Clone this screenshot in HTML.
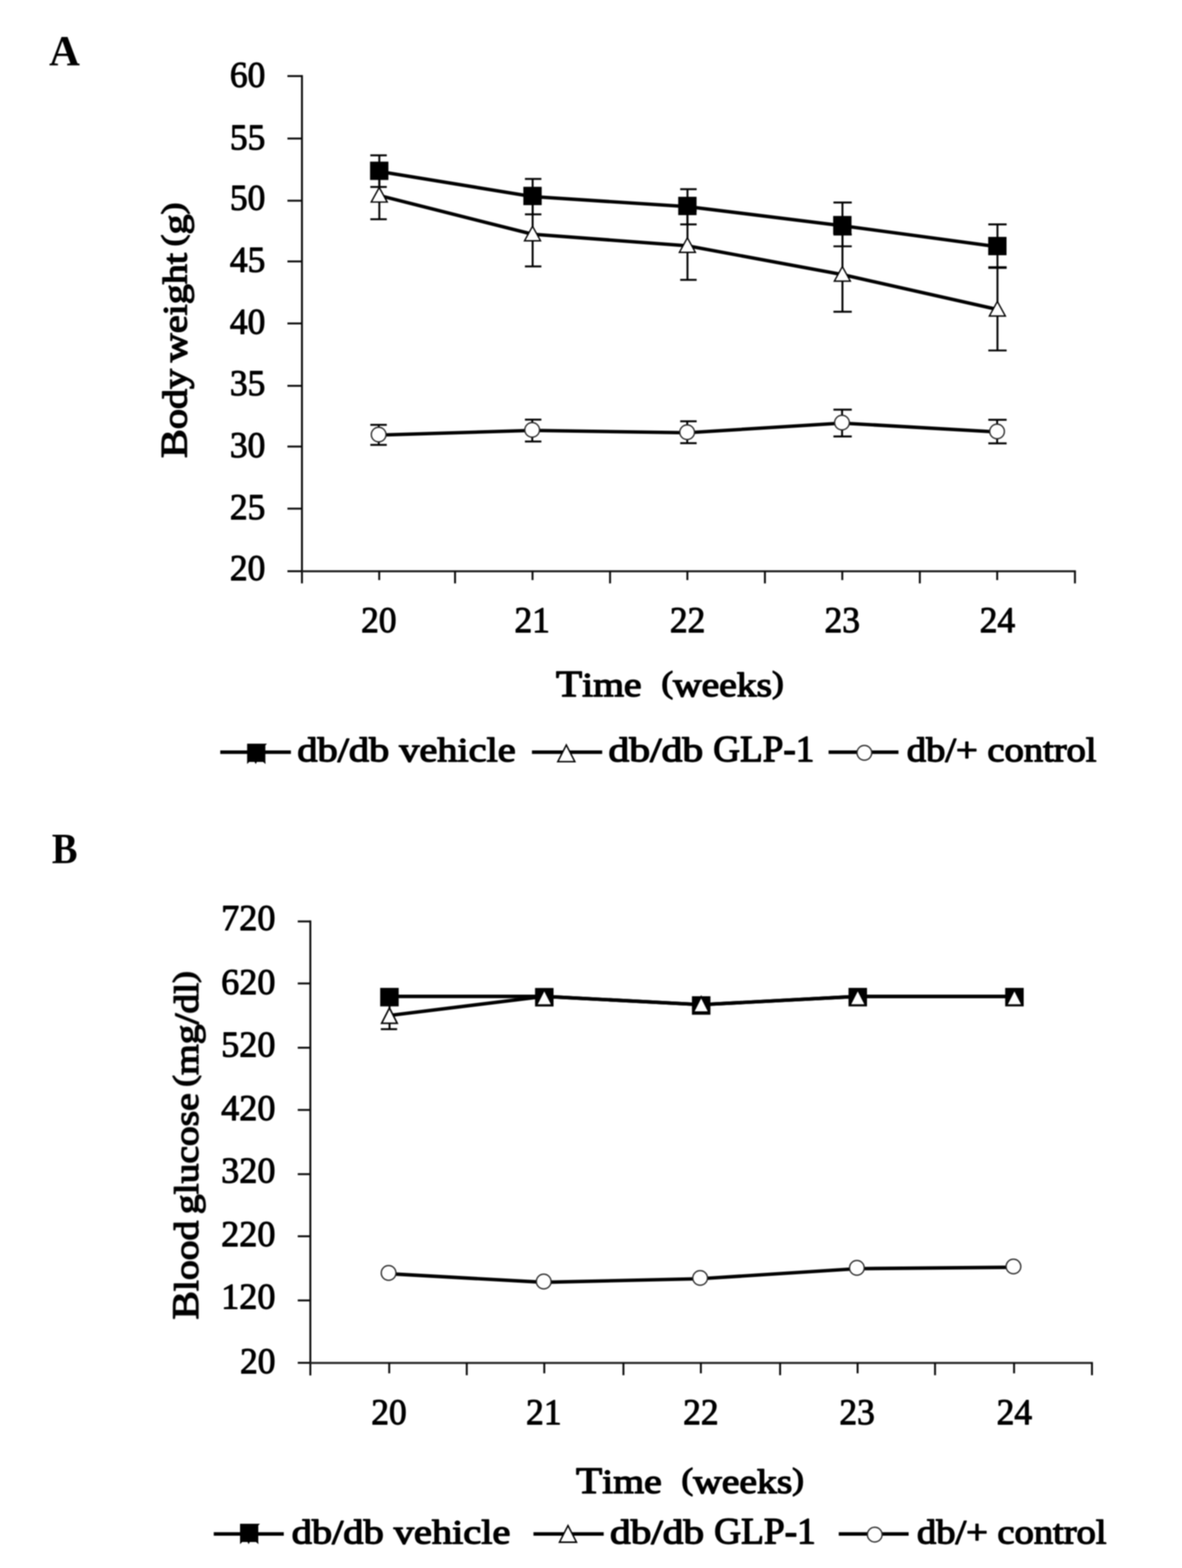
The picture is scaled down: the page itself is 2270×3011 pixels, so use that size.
<!DOCTYPE html>
<html lang="en">
<head>
<meta charset="utf-8">
<title>Body weight and blood glucose over time</title>
<style>
html,body{margin:0;padding:0;background:#fff;}
body{width:2270px;height:3011px;overflow:hidden;}
svg{display:block;}
svg text{font-family:"Liberation Serif",serif;fill:#000;}
</style>
</head>
<body>
<svg width="2270" height="3011" viewBox="0 0 2270 3011">
<rect width="2270" height="3011" fill="#fff"/>
<defs><filter id="soft" filterUnits="userSpaceOnUse" x="0" y="0" width="2270" height="3011" color-interpolation-filters="sRGB"><feGaussianBlur stdDeviation="0.8"/></filter></defs>
<g id="fig" filter="url(#soft)">
<g id="shapes">
<line x1="552.00" y1="146.10" x2="579.90" y2="146.10" stroke="#0a0a0a" stroke-width="3.7" stroke-linecap="butt"/>
<line x1="552.00" y1="266.00" x2="579.90" y2="266.00" stroke="#0a0a0a" stroke-width="3.7" stroke-linecap="butt"/>
<line x1="552.00" y1="385.40" x2="579.90" y2="385.40" stroke="#0a0a0a" stroke-width="3.7" stroke-linecap="butt"/>
<line x1="552.00" y1="502.00" x2="579.90" y2="502.00" stroke="#0a0a0a" stroke-width="3.7" stroke-linecap="butt"/>
<line x1="552.00" y1="621.10" x2="579.90" y2="621.10" stroke="#0a0a0a" stroke-width="3.7" stroke-linecap="butt"/>
<line x1="552.00" y1="740.90" x2="579.90" y2="740.90" stroke="#0a0a0a" stroke-width="3.7" stroke-linecap="butt"/>
<line x1="552.00" y1="857.50" x2="579.90" y2="857.50" stroke="#0a0a0a" stroke-width="3.7" stroke-linecap="butt"/>
<line x1="552.00" y1="976.70" x2="579.90" y2="976.70" stroke="#0a0a0a" stroke-width="3.7" stroke-linecap="butt"/>
<line x1="552.00" y1="1096.90" x2="579.90" y2="1096.90" stroke="#0a0a0a" stroke-width="3.7" stroke-linecap="butt"/>
<line x1="579.90" y1="144.25" x2="579.90" y2="1120.30" stroke="#0a0a0a" stroke-width="3.7" stroke-linecap="butt"/>
<line x1="579.90" y1="1097.00" x2="2066.25" y2="1097.00" stroke="#222" stroke-width="3.9" stroke-linecap="butt"/>
<line x1="873.90" y1="1096.90" x2="873.90" y2="1120.30" stroke="#0a0a0a" stroke-width="3.7" stroke-linecap="butt"/>
<line x1="1171.60" y1="1096.90" x2="1171.60" y2="1120.30" stroke="#0a0a0a" stroke-width="3.7" stroke-linecap="butt"/>
<line x1="1469.00" y1="1096.90" x2="1469.00" y2="1120.30" stroke="#0a0a0a" stroke-width="3.7" stroke-linecap="butt"/>
<line x1="1766.50" y1="1096.90" x2="1766.50" y2="1120.30" stroke="#0a0a0a" stroke-width="3.7" stroke-linecap="butt"/>
<line x1="2064.40" y1="1096.90" x2="2064.40" y2="1120.30" stroke="#0a0a0a" stroke-width="3.7" stroke-linecap="butt"/>
<line x1="728.30" y1="1096.90" x2="728.30" y2="1113.90" stroke="#0a0a0a" stroke-width="3.7" stroke-linecap="butt"/>
<line x1="1022.70" y1="1096.90" x2="1022.70" y2="1113.90" stroke="#0a0a0a" stroke-width="3.7" stroke-linecap="butt"/>
<line x1="1320.10" y1="1096.90" x2="1320.10" y2="1113.90" stroke="#0a0a0a" stroke-width="3.7" stroke-linecap="butt"/>
<line x1="1617.60" y1="1096.90" x2="1617.60" y2="1113.90" stroke="#0a0a0a" stroke-width="3.7" stroke-linecap="butt"/>
<line x1="1915.10" y1="1096.90" x2="1915.10" y2="1113.90" stroke="#0a0a0a" stroke-width="3.7" stroke-linecap="butt"/>
<line x1="728.50" y1="327.80" x2="728.50" y2="421.00" stroke="#000" stroke-width="3.7" stroke-linecap="butt"/>
<line x1="711.20" y1="327.80" x2="742.80" y2="327.80" stroke="#000" stroke-width="3.7" stroke-linecap="butt"/>
<line x1="711.20" y1="421.00" x2="742.80" y2="421.00" stroke="#000" stroke-width="3.7" stroke-linecap="butt"/>
<line x1="728.50" y1="298.30" x2="728.50" y2="359.00" stroke="#000" stroke-width="3.7" stroke-linecap="butt"/>
<line x1="711.20" y1="298.30" x2="742.80" y2="298.30" stroke="#000" stroke-width="3.7" stroke-linecap="butt"/>
<line x1="711.20" y1="359.00" x2="742.80" y2="359.00" stroke="#000" stroke-width="3.7" stroke-linecap="butt"/>
<line x1="727.40" y1="815.80" x2="727.40" y2="854.30" stroke="#000" stroke-width="3.7" stroke-linecap="butt"/>
<line x1="711.20" y1="815.80" x2="742.80" y2="815.80" stroke="#000" stroke-width="3.7" stroke-linecap="butt"/>
<line x1="711.20" y1="854.30" x2="742.80" y2="854.30" stroke="#000" stroke-width="3.7" stroke-linecap="butt"/>
<line x1="1022.90" y1="386.00" x2="1022.90" y2="511.60" stroke="#000" stroke-width="3.7" stroke-linecap="butt"/>
<line x1="1008.10" y1="386.00" x2="1039.70" y2="386.00" stroke="#000" stroke-width="3.7" stroke-linecap="butt"/>
<line x1="1008.10" y1="511.60" x2="1039.70" y2="511.60" stroke="#000" stroke-width="3.7" stroke-linecap="butt"/>
<line x1="1022.90" y1="343.60" x2="1022.90" y2="411.60" stroke="#000" stroke-width="3.7" stroke-linecap="butt"/>
<line x1="1008.10" y1="343.60" x2="1039.70" y2="343.60" stroke="#000" stroke-width="3.7" stroke-linecap="butt"/>
<line x1="1008.10" y1="411.60" x2="1039.70" y2="411.60" stroke="#000" stroke-width="3.7" stroke-linecap="butt"/>
<line x1="1022.20" y1="805.80" x2="1022.20" y2="847.80" stroke="#000" stroke-width="3.7" stroke-linecap="butt"/>
<line x1="1008.10" y1="805.80" x2="1039.70" y2="805.80" stroke="#000" stroke-width="3.7" stroke-linecap="butt"/>
<line x1="1008.10" y1="847.80" x2="1039.70" y2="847.80" stroke="#000" stroke-width="3.7" stroke-linecap="butt"/>
<line x1="1320.30" y1="404.60" x2="1320.30" y2="537.40" stroke="#000" stroke-width="3.7" stroke-linecap="butt"/>
<line x1="1306.30" y1="404.60" x2="1337.90" y2="404.60" stroke="#000" stroke-width="3.7" stroke-linecap="butt"/>
<line x1="1306.30" y1="537.40" x2="1337.90" y2="537.40" stroke="#000" stroke-width="3.7" stroke-linecap="butt"/>
<line x1="1320.30" y1="363.30" x2="1320.30" y2="430.90" stroke="#000" stroke-width="3.7" stroke-linecap="butt"/>
<line x1="1306.30" y1="363.30" x2="1337.90" y2="363.30" stroke="#000" stroke-width="3.7" stroke-linecap="butt"/>
<line x1="1306.30" y1="430.90" x2="1337.90" y2="430.90" stroke="#000" stroke-width="3.7" stroke-linecap="butt"/>
<line x1="1319.80" y1="809.00" x2="1319.80" y2="851.00" stroke="#000" stroke-width="3.7" stroke-linecap="butt"/>
<line x1="1306.30" y1="809.00" x2="1337.90" y2="809.00" stroke="#000" stroke-width="3.7" stroke-linecap="butt"/>
<line x1="1306.30" y1="851.00" x2="1337.90" y2="851.00" stroke="#000" stroke-width="3.7" stroke-linecap="butt"/>
<line x1="1617.90" y1="450.50" x2="1617.90" y2="598.70" stroke="#000" stroke-width="3.7" stroke-linecap="butt"/>
<line x1="1600.60" y1="450.50" x2="1635.80" y2="450.50" stroke="#000" stroke-width="3.7" stroke-linecap="butt"/>
<line x1="1600.60" y1="598.70" x2="1635.80" y2="598.70" stroke="#000" stroke-width="3.7" stroke-linecap="butt"/>
<line x1="1617.90" y1="388.80" x2="1617.90" y2="473.00" stroke="#000" stroke-width="3.7" stroke-linecap="butt"/>
<line x1="1600.60" y1="388.80" x2="1635.80" y2="388.80" stroke="#000" stroke-width="3.7" stroke-linecap="butt"/>
<line x1="1600.60" y1="473.00" x2="1635.80" y2="473.00" stroke="#000" stroke-width="3.7" stroke-linecap="butt"/>
<line x1="1617.20" y1="786.70" x2="1617.20" y2="838.10" stroke="#000" stroke-width="3.7" stroke-linecap="butt"/>
<line x1="1600.60" y1="786.70" x2="1635.80" y2="786.70" stroke="#000" stroke-width="3.7" stroke-linecap="butt"/>
<line x1="1600.60" y1="838.10" x2="1635.80" y2="838.10" stroke="#000" stroke-width="3.7" stroke-linecap="butt"/>
<line x1="1915.60" y1="514.50" x2="1915.60" y2="673.00" stroke="#000" stroke-width="3.7" stroke-linecap="butt"/>
<line x1="1898.00" y1="514.50" x2="1933.20" y2="514.50" stroke="#000" stroke-width="3.7" stroke-linecap="butt"/>
<line x1="1898.00" y1="673.00" x2="1933.20" y2="673.00" stroke="#000" stroke-width="3.7" stroke-linecap="butt"/>
<line x1="1915.60" y1="430.90" x2="1915.60" y2="513.10" stroke="#000" stroke-width="3.7" stroke-linecap="butt"/>
<line x1="1898.00" y1="430.90" x2="1933.20" y2="430.90" stroke="#000" stroke-width="3.7" stroke-linecap="butt"/>
<line x1="1898.00" y1="513.10" x2="1933.20" y2="513.10" stroke="#000" stroke-width="3.7" stroke-linecap="butt"/>
<line x1="1915.00" y1="806.10" x2="1915.00" y2="851.40" stroke="#000" stroke-width="3.7" stroke-linecap="butt"/>
<line x1="1898.00" y1="806.10" x2="1933.20" y2="806.10" stroke="#000" stroke-width="3.7" stroke-linecap="butt"/>
<line x1="1898.00" y1="851.40" x2="1933.20" y2="851.40" stroke="#000" stroke-width="3.7" stroke-linecap="butt"/>
<polyline points="728.30,329.20 1022.70,377.50 1320.10,396.70 1617.70,433.50 1915.40,473.70" fill="none" stroke="#000" stroke-width="6.6" stroke-linejoin="round" stroke-linecap="butt"/>
<polyline points="728.30,375.40 1022.70,449.80 1320.10,472.00 1617.70,527.30 1915.40,594.30" fill="none" stroke="#000" stroke-width="6.6" stroke-linejoin="round" stroke-linecap="butt"/>
<polyline points="727.20,835.50 1022.00,826.50 1319.60,831.00 1617.00,812.50 1914.80,829.50" fill="none" stroke="#000" stroke-width="6.6" stroke-linejoin="round" stroke-linecap="butt"/>
<rect x="710.70" y="310.40" width="35.2" height="35.2" fill="#000"/>
<rect x="1005.10" y="358.70" width="35.2" height="35.2" fill="#000"/>
<rect x="1302.50" y="377.90" width="35.2" height="35.2" fill="#000"/>
<rect x="1600.10" y="414.70" width="35.2" height="35.2" fill="#000"/>
<rect x="1897.80" y="454.90" width="35.2" height="35.2" fill="#000"/>
<polygon points="728.30,360.00 743.70,388.00 712.90,388.00" fill="#fff" stroke="#000" stroke-width="2.6" stroke-linejoin="miter"/>
<polygon points="1022.70,434.40 1038.10,462.40 1007.30,462.40" fill="#fff" stroke="#000" stroke-width="2.6" stroke-linejoin="miter"/>
<polygon points="1320.10,456.60 1335.50,484.60 1304.70,484.60" fill="#fff" stroke="#000" stroke-width="2.6" stroke-linejoin="miter"/>
<polygon points="1617.70,511.90 1633.10,539.90 1602.30,539.90" fill="#fff" stroke="#000" stroke-width="2.6" stroke-linejoin="miter"/>
<polygon points="1915.40,578.90 1930.80,606.90 1900.00,606.90" fill="#fff" stroke="#000" stroke-width="2.6" stroke-linejoin="miter"/>
<circle cx="727.20" cy="834.50" r="14.1" fill="#fff" stroke="#262626" stroke-width="2.5"/>
<circle cx="1022.00" cy="825.50" r="14.1" fill="#fff" stroke="#262626" stroke-width="2.5"/>
<circle cx="1319.60" cy="830.00" r="14.1" fill="#fff" stroke="#262626" stroke-width="2.5"/>
<circle cx="1617.00" cy="811.50" r="14.1" fill="#fff" stroke="#262626" stroke-width="2.5"/>
<circle cx="1914.80" cy="828.50" r="14.1" fill="#fff" stroke="#262626" stroke-width="2.5"/>
<line x1="423.00" y1="1444.40" x2="558.70" y2="1444.40" stroke="#000" stroke-width="6.8" stroke-linecap="butt"/>
<rect x="474.60" y="1428.10" width="35" height="35" fill="#000"/>
<path d="M474.6,1462.6 l0,4.6 l4.5,-4.6 z M488.6,1462.6 l2.5,4.6 l2.5,-4.6 z M504.6,1462.6 l5.5,4.6 l-0.5,-4.6 z M509.1,1428.1 l3.6,0 l-3.6,4 z" fill="#000"/>
<line x1="1021.60" y1="1444.40" x2="1156.50" y2="1444.40" stroke="#000" stroke-width="6.8" stroke-linecap="butt"/>
<polygon points="1087.60,1430.60 1104.00,1462.60 1071.20,1462.60" fill="#fff" stroke="#000" stroke-width="2.8" stroke-linejoin="miter"/>
<line x1="1591.30" y1="1444.40" x2="1725.50" y2="1444.40" stroke="#000" stroke-width="6.8" stroke-linecap="butt"/>
<circle cx="1660.00" cy="1445.60" r="14.1" fill="#fff" stroke="#262626" stroke-width="2.5"/>
<line x1="571.80" y1="1769.40" x2="596.00" y2="1769.40" stroke="#0a0a0a" stroke-width="3.7" stroke-linecap="butt"/>
<line x1="571.80" y1="1888.50" x2="596.00" y2="1888.50" stroke="#0a0a0a" stroke-width="3.7" stroke-linecap="butt"/>
<line x1="571.80" y1="2011.90" x2="596.00" y2="2011.90" stroke="#0a0a0a" stroke-width="3.7" stroke-linecap="butt"/>
<line x1="571.80" y1="2131.40" x2="596.00" y2="2131.40" stroke="#0a0a0a" stroke-width="3.7" stroke-linecap="butt"/>
<line x1="571.80" y1="2254.70" x2="596.00" y2="2254.70" stroke="#0a0a0a" stroke-width="3.7" stroke-linecap="butt"/>
<line x1="571.80" y1="2374.00" x2="596.00" y2="2374.00" stroke="#0a0a0a" stroke-width="3.7" stroke-linecap="butt"/>
<line x1="571.80" y1="2497.20" x2="596.00" y2="2497.20" stroke="#0a0a0a" stroke-width="3.7" stroke-linecap="butt"/>
<line x1="571.80" y1="2617.00" x2="596.00" y2="2617.00" stroke="#0a0a0a" stroke-width="3.7" stroke-linecap="butt"/>
<line x1="596.00" y1="1767.55" x2="596.00" y2="2641.20" stroke="#0a0a0a" stroke-width="3.7" stroke-linecap="butt"/>
<line x1="596.00" y1="2617.20" x2="2098.95" y2="2617.20" stroke="#222" stroke-width="3.9" stroke-linecap="butt"/>
<line x1="896.40" y1="2617.00" x2="896.40" y2="2640.80" stroke="#0a0a0a" stroke-width="3.7" stroke-linecap="butt"/>
<line x1="1197.30" y1="2617.00" x2="1197.30" y2="2640.80" stroke="#0a0a0a" stroke-width="3.7" stroke-linecap="butt"/>
<line x1="1498.20" y1="2617.00" x2="1498.20" y2="2640.80" stroke="#0a0a0a" stroke-width="3.7" stroke-linecap="butt"/>
<line x1="1795.70" y1="2617.00" x2="1795.70" y2="2640.80" stroke="#0a0a0a" stroke-width="3.7" stroke-linecap="butt"/>
<line x1="2097.10" y1="2617.00" x2="2097.10" y2="2640.80" stroke="#0a0a0a" stroke-width="3.7" stroke-linecap="butt"/>
<line x1="747.50" y1="2617.00" x2="747.50" y2="2637.20" stroke="#0a0a0a" stroke-width="3.7" stroke-linecap="butt"/>
<line x1="1045.30" y1="2617.00" x2="1045.30" y2="2637.20" stroke="#0a0a0a" stroke-width="3.7" stroke-linecap="butt"/>
<line x1="1346.00" y1="2617.00" x2="1346.00" y2="2637.20" stroke="#0a0a0a" stroke-width="3.7" stroke-linecap="butt"/>
<line x1="1647.00" y1="2617.00" x2="1647.00" y2="2637.20" stroke="#0a0a0a" stroke-width="3.7" stroke-linecap="butt"/>
<line x1="1947.50" y1="2617.00" x2="1947.50" y2="2637.20" stroke="#0a0a0a" stroke-width="3.7" stroke-linecap="butt"/>
<line x1="748.10" y1="1924.70" x2="748.10" y2="1976.30" stroke="#000" stroke-width="3.7" stroke-linecap="butt"/>
<line x1="731.35" y1="1924.70" x2="762.65" y2="1924.70" stroke="#000" stroke-width="3.7" stroke-linecap="butt"/>
<line x1="731.35" y1="1976.30" x2="762.65" y2="1976.30" stroke="#000" stroke-width="3.7" stroke-linecap="butt"/>
<polyline points="747.90,1913.40 1045.30,1913.40 1346.60,1929.20 1647.30,1913.40 1948.20,1913.40" fill="none" stroke="#000" stroke-width="6.6" stroke-linejoin="round" stroke-linecap="butt"/>
<polyline points="747.90,1950.00 1045.30,1913.40 1346.60,1929.20 1647.30,1913.40 1948.20,1913.40" fill="none" stroke="#000" stroke-width="6.6" stroke-linejoin="round" stroke-linecap="butt"/>
<polyline points="746.30,2445.90 1044.20,2462.40 1344.60,2455.50 1645.60,2436.20 1946.30,2433.50" fill="none" stroke="#000" stroke-width="6.6" stroke-linejoin="round" stroke-linecap="butt"/>
<rect x="730.15" y="1897.05" width="35.5" height="35.5" fill="#000"/>
<rect x="1027.55" y="1897.25" width="35.5" height="35.5" fill="#000"/>
<rect x="1328.85" y="1913.05" width="35.5" height="35.5" fill="#000"/>
<rect x="1629.55" y="1897.05" width="35.5" height="35.5" fill="#000"/>
<rect x="1930.45" y="1897.05" width="35.5" height="35.5" fill="#000"/>
<polygon points="747.90,1935.50 762.90,1965.00 732.90,1965.00" fill="#fff" stroke="#000" stroke-width="3.0" stroke-linejoin="miter"/>
<polygon points="1045.30,1900.50 1060.30,1930.00 1030.30,1930.00" fill="#fff" stroke="#000" stroke-width="3.0" stroke-linejoin="miter"/>
<polygon points="1346.60,1914.00 1361.60,1943.50 1331.60,1943.50" fill="#fff" stroke="#000" stroke-width="3.0" stroke-linejoin="miter"/>
<polygon points="1647.30,1900.50 1662.30,1930.00 1632.30,1930.00" fill="#fff" stroke="#000" stroke-width="3.0" stroke-linejoin="miter"/>
<polygon points="1948.20,1900.50 1963.20,1930.00 1933.20,1930.00" fill="#fff" stroke="#000" stroke-width="3.0" stroke-linejoin="miter"/>
<circle cx="746.30" cy="2444.40" r="14.1" fill="#fff" stroke="#262626" stroke-width="2.5"/>
<circle cx="1044.20" cy="2460.90" r="14.1" fill="#fff" stroke="#262626" stroke-width="2.5"/>
<circle cx="1344.60" cy="2454.00" r="14.1" fill="#fff" stroke="#262626" stroke-width="2.5"/>
<circle cx="1645.60" cy="2434.70" r="14.1" fill="#fff" stroke="#262626" stroke-width="2.5"/>
<circle cx="1946.30" cy="2432.00" r="14.1" fill="#fff" stroke="#262626" stroke-width="2.5"/>
<line x1="410.50" y1="2945.70" x2="545.00" y2="2945.70" stroke="#000" stroke-width="6.8" stroke-linecap="butt"/>
<rect x="461.00" y="2926.10" width="35" height="35" fill="#000"/>
<path d="M461.0,2960.6 l0,4.6 l4.5,-4.6 z M475.0,2960.6 l2.5,4.6 l2.5,-4.6 z M491.0,2960.6 l5.5,4.6 l-0.5,-4.6 z M495.5,2926.1 l3.6,0 l-3.6,4 z" fill="#000"/>
<line x1="1024.50" y1="2945.70" x2="1159.40" y2="2945.70" stroke="#000" stroke-width="6.8" stroke-linecap="butt"/>
<polygon points="1090.80,2929.50 1107.20,2961.50 1074.40,2961.50" fill="#fff" stroke="#000" stroke-width="2.8" stroke-linejoin="miter"/>
<line x1="1610.80" y1="2945.70" x2="1745.00" y2="2945.70" stroke="#000" stroke-width="6.8" stroke-linecap="butt"/>
<circle cx="1679.90" cy="2946.90" r="14.1" fill="#fff" stroke="#262626" stroke-width="2.5"/>
</g>
<g id="labels">
<text transform="translate(441.55,166.70) scale(0.9750,1)" font-size="69.8" font-weight="normal" stroke="#000" stroke-width="1.9" stroke-linejoin="round" xml:space="preserve" style="white-space:pre">60</text>
<text transform="translate(441.55,286.80) scale(0.9750,1)" font-size="69.8" font-weight="normal" stroke="#000" stroke-width="1.9" stroke-linejoin="round" xml:space="preserve" style="white-space:pre">55</text>
<text transform="translate(441.55,402.80) scale(0.9750,1)" font-size="69.8" font-weight="normal" stroke="#000" stroke-width="1.9" stroke-linejoin="round" xml:space="preserve" style="white-space:pre">50</text>
<text transform="translate(441.55,522.20) scale(0.9750,1)" font-size="69.8" font-weight="normal" stroke="#000" stroke-width="1.9" stroke-linejoin="round" xml:space="preserve" style="white-space:pre">45</text>
<text transform="translate(441.55,641.30) scale(0.9750,1)" font-size="69.8" font-weight="normal" stroke="#000" stroke-width="1.9" stroke-linejoin="round" xml:space="preserve" style="white-space:pre">40</text>
<text transform="translate(441.55,758.80) scale(0.9750,1)" font-size="69.8" font-weight="normal" stroke="#000" stroke-width="1.9" stroke-linejoin="round" xml:space="preserve" style="white-space:pre">35</text>
<text transform="translate(441.55,877.80) scale(0.9750,1)" font-size="69.8" font-weight="normal" stroke="#000" stroke-width="1.9" stroke-linejoin="round" xml:space="preserve" style="white-space:pre">30</text>
<text transform="translate(441.55,997.20) scale(0.9750,1)" font-size="69.8" font-weight="normal" stroke="#000" stroke-width="1.9" stroke-linejoin="round" xml:space="preserve" style="white-space:pre">25</text>
<text transform="translate(441.55,1113.70) scale(0.9750,1)" font-size="69.8" font-weight="normal" stroke="#000" stroke-width="1.9" stroke-linejoin="round" xml:space="preserve" style="white-space:pre">20</text>
<text transform="translate(693.57,1214.00) scale(0.9750,1)" font-size="69.8" font-weight="normal" stroke="#000" stroke-width="1.9" stroke-linejoin="round" xml:space="preserve" style="white-space:pre">20</text>
<text transform="translate(987.97,1214.00) scale(0.9750,1)" font-size="69.8" font-weight="normal" stroke="#000" stroke-width="1.9" stroke-linejoin="round" xml:space="preserve" style="white-space:pre">21</text>
<text transform="translate(1286.47,1214.00) scale(0.9750,1)" font-size="69.8" font-weight="normal" stroke="#000" stroke-width="1.9" stroke-linejoin="round" xml:space="preserve" style="white-space:pre">22</text>
<text transform="translate(1583.57,1214.00) scale(0.9750,1)" font-size="69.8" font-weight="normal" stroke="#000" stroke-width="1.9" stroke-linejoin="round" xml:space="preserve" style="white-space:pre">23</text>
<text transform="translate(1881.57,1214.00) scale(0.9750,1)" font-size="69.8" font-weight="normal" stroke="#000" stroke-width="1.9" stroke-linejoin="round" xml:space="preserve" style="white-space:pre">24</text>
<text transform="translate(1067.83,1336.80) scale(1.1445,1)" font-size="66.5" font-weight="normal" stroke="#000" stroke-width="2.4" stroke-linejoin="round" xml:space="preserve" style="white-space:pre"><tspan font-size="71.8">T</tspan><tspan>ime  </tspan><tspan font-size="58.7" dy="-7.20">(</tspan><tspan dy="7.20">weeks</tspan><tspan font-size="58.7" dy="-7.20">)</tspan></text>
<text transform="translate(358.20,879.53) rotate(-90) scale(1.1592,1)" font-size="66.5" font-weight="normal" stroke="#000" stroke-width="2.4" stroke-linejoin="round" word-spacing="-5.5" xml:space="preserve" style="white-space:pre"><tspan font-size="71.8">B</tspan><tspan>ody weight </tspan><tspan font-size="58.7" dy="-7.20">(</tspan><tspan dy="7.20">g</tspan><tspan font-size="58.7" dy="-7.20">)</tspan></text>
<text transform="translate(94.20,125.00) scale(0.9949,1)" font-size="82.4" font-weight="bold" xml:space="preserve" style="white-space:pre">A</text>
<text transform="translate(571.07,1462.30) scale(1.1644,1)" font-size="66.5" font-weight="normal" stroke="#000" stroke-width="2.4" stroke-linejoin="round" xml:space="preserve" style="white-space:pre">db/db vehicle</text>
<text y="1462.30" font-size="66.5" font-weight="normal" stroke="#000" stroke-width="2.4" stroke-linejoin="round" xml:space="preserve" style="white-space:pre"><tspan x="1168.60" textLength="181.80" lengthAdjust="spacingAndGlyphs">db/db</tspan><tspan> </tspan><tspan x="1369.71" font-size="71.8" textLength="194.16" lengthAdjust="spacingAndGlyphs">GLP-1</tspan></text>
<text transform="translate(1741.51,1462.30) scale(1.1130,1)" font-size="66.5" font-weight="normal" stroke="#000" stroke-width="2.4" stroke-linejoin="round" xml:space="preserve" style="white-space:pre">db/+ control</text>
<text transform="translate(424.83,1786.30) scale(0.9950,1)" font-size="69.8" font-weight="normal" stroke="#000" stroke-width="1.9" stroke-linejoin="round" xml:space="preserve" style="white-space:pre">720</text>
<text transform="translate(424.83,1908.70) scale(0.9950,1)" font-size="69.8" font-weight="normal" stroke="#000" stroke-width="1.9" stroke-linejoin="round" xml:space="preserve" style="white-space:pre">620</text>
<text transform="translate(424.83,2028.50) scale(0.9950,1)" font-size="69.8" font-weight="normal" stroke="#000" stroke-width="1.9" stroke-linejoin="round" xml:space="preserve" style="white-space:pre">520</text>
<text transform="translate(424.83,2150.80) scale(0.9950,1)" font-size="69.8" font-weight="normal" stroke="#000" stroke-width="1.9" stroke-linejoin="round" xml:space="preserve" style="white-space:pre">420</text>
<text transform="translate(424.83,2270.50) scale(0.9950,1)" font-size="69.8" font-weight="normal" stroke="#000" stroke-width="1.9" stroke-linejoin="round" xml:space="preserve" style="white-space:pre">320</text>
<text transform="translate(424.83,2393.20) scale(0.9950,1)" font-size="69.8" font-weight="normal" stroke="#000" stroke-width="1.9" stroke-linejoin="round" xml:space="preserve" style="white-space:pre">220</text>
<text transform="translate(424.83,2513.40) scale(0.9950,1)" font-size="69.8" font-weight="normal" stroke="#000" stroke-width="1.9" stroke-linejoin="round" xml:space="preserve" style="white-space:pre">120</text>
<text transform="translate(460.95,2636.80) scale(0.9750,1)" font-size="69.8" font-weight="normal" stroke="#000" stroke-width="1.9" stroke-linejoin="round" xml:space="preserve" style="white-space:pre">20</text>
<text transform="translate(713.07,2735.00) scale(0.9750,1)" font-size="69.8" font-weight="normal" stroke="#000" stroke-width="1.9" stroke-linejoin="round" xml:space="preserve" style="white-space:pre">20</text>
<text transform="translate(1010.37,2735.00) scale(0.9750,1)" font-size="69.8" font-weight="normal" stroke="#000" stroke-width="1.9" stroke-linejoin="round" xml:space="preserve" style="white-space:pre">21</text>
<text transform="translate(1311.97,2735.00) scale(0.9750,1)" font-size="69.8" font-weight="normal" stroke="#000" stroke-width="1.9" stroke-linejoin="round" xml:space="preserve" style="white-space:pre">22</text>
<text transform="translate(1611.97,2735.00) scale(0.9750,1)" font-size="69.8" font-weight="normal" stroke="#000" stroke-width="1.9" stroke-linejoin="round" xml:space="preserve" style="white-space:pre">23</text>
<text transform="translate(1913.97,2735.00) scale(0.9750,1)" font-size="69.8" font-weight="normal" stroke="#000" stroke-width="1.9" stroke-linejoin="round" xml:space="preserve" style="white-space:pre">24</text>
<text transform="translate(1106.33,2866.80) scale(1.1453,1)" font-size="66.5" font-weight="normal" stroke="#000" stroke-width="2.4" stroke-linejoin="round" xml:space="preserve" style="white-space:pre"><tspan font-size="71.8">T</tspan><tspan>ime  </tspan><tspan font-size="58.7" dy="-7.20">(</tspan><tspan dy="7.20">weeks</tspan><tspan font-size="58.7" dy="-7.20">)</tspan></text>
<text transform="translate(380.20,2533.91) rotate(-90) scale(1.1422,1)" font-size="66.5" font-weight="normal" stroke="#000" stroke-width="2.4" stroke-linejoin="round" word-spacing="-5.5" xml:space="preserve" style="white-space:pre"><tspan font-size="71.8">B</tspan><tspan>lood glucose </tspan><tspan font-size="58.7" dy="-7.20">(</tspan><tspan dy="7.20">mg/dl</tspan><tspan font-size="58.7" dy="-7.20">)</tspan></text>
<text transform="translate(99.40,1657.00) scale(0.8981,1)" font-size="82.4" font-weight="bold" xml:space="preserve" style="white-space:pre">B</text>
<text transform="translate(560.27,2963.90) scale(1.1663,1)" font-size="66.5" font-weight="normal" stroke="#000" stroke-width="2.4" stroke-linejoin="round" xml:space="preserve" style="white-space:pre">db/db vehicle</text>
<text y="2963.90" font-size="66.5" font-weight="normal" stroke="#000" stroke-width="2.4" stroke-linejoin="round" xml:space="preserve" style="white-space:pre"><tspan x="1171.51" textLength="180.67" lengthAdjust="spacingAndGlyphs">db/db</tspan><tspan> </tspan><tspan x="1371.50" font-size="71.8" textLength="195.19" lengthAdjust="spacingAndGlyphs">GLP-1</tspan></text>
<text transform="translate(1761.01,2963.90) scale(1.1118,1)" font-size="66.5" font-weight="normal" stroke="#000" stroke-width="2.4" stroke-linejoin="round" xml:space="preserve" style="white-space:pre">db/+ control</text>
</g>
</g>
</svg>
</body>
</html>
